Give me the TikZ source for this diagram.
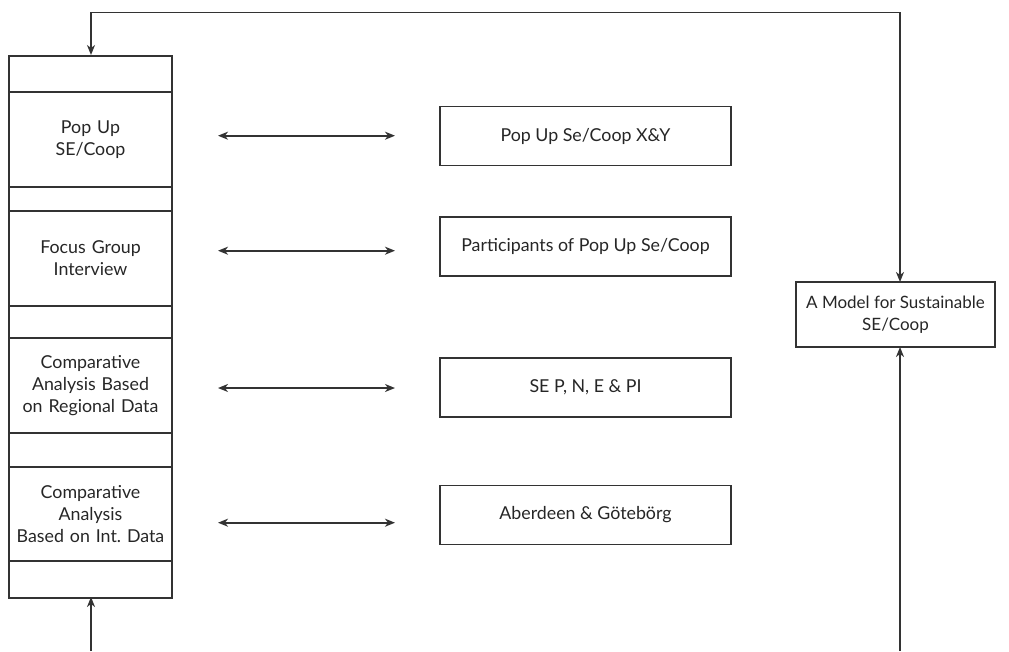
\documentclass[tikz,border=0pt]{standalone}
\usepackage{fontspec}
\setmainfont{Lato}
\usetikzlibrary{arrows.meta,calc}
\frenchspacing
\begin{document}
\begin{tikzpicture}[x=1pt,y=-1pt,
  every node/.style={font=\fontsize{17.8}{22}\selectfont, text=black!85},
  ln/.style={line width=1.6pt, draw=black!80},
  cell/.style={ln, draw, rectangle, anchor=north, minimum width=163pt, inner sep=0pt, align=center, text width=160pt},
  mbox/.style={ln, draw, rectangle, minimum width=291pt, minimum height=59pt, inner sep=0pt, align=center},
  tip/.style={-{Stealth[length=10pt,width=8pt,inset=3pt]}},
  dbl/.style={ln, {Stealth[length=10pt,width=8pt,inset=3pt]}-{Stealth[length=10pt,width=8pt,inset=3pt]}}
]
\useasboundingbox (0,0) rectangle (1009,651);
% left column
\node[cell, minimum height=36pt] (c0) at (90.5,55) {};
\node[cell, minimum height=95pt] (c1) at (90.5,91) {Pop Up\\SE/Coop};
\node[cell, minimum height=24pt] (c2) at (90.5,186) {};
\node[cell, minimum height=95pt] (c3) at (90.5,210) {Focus Group\\Interview};
\node[cell, minimum height=32pt] (c4) at (90.5,305) {};
\node[cell, minimum height=95pt] (c5) at (90.5,337) {Comparative\\Analysis Based\\on Regional Data};
\node[cell, minimum height=34pt] (c6) at (90.5,432) {};
\node[cell, minimum height=94pt] (c7) at (90.5,466) {Comparative\\Analysis\\Based on Int. Data};
\node[cell, minimum height=37pt] (c8) at (90.5,560) {};
% middle boxes
\node[mbox] (b1) at (585.5,136) {Pop Up Se/Coop X\&Y};
\node[mbox] (b2) at (585.5,246.3) {Participants of Pop Up Se/Coop};
\node[mbox] (b3) at (585.5,387.2) {SE P, N, E \& PI};
\node[mbox] (b4) at (585.5,514.8) {Aberdeen \& Götebörg};
% model box
\node[ln, draw, rectangle, minimum width=199pt, minimum height=65pt, inner sep=0pt, align=center, font=\fontsize{17}{22}\selectfont] (m) at (895.5,314.5) {A Model for Sustainable\\SE/Coop};
% double arrows
\coordinate (a1l) at (218,135.7); \coordinate (a1r) at (395,135.7);
\coordinate (a2l) at (218,250.7); \coordinate (a2r) at (395,250.7);
\coordinate (a3l) at (218,388); \coordinate (a3r) at (395,388);
\coordinate (a4l) at (218,522.7); \coordinate (a4r) at (395,522.7);
\draw[dbl] (a1l) -- (a1r);
\draw[dbl] (a2l) -- (a2r);
\draw[dbl] (a3l) -- (a3r);
\draw[dbl] (a4l) -- (a4r);
% top feedback loop
\coordinate (tl) at (91,12.3);
\coordinate (tr) at (900,12.3);
\draw[ln, tip] (tr) -- (tl) -- (91,55);
\draw[ln, tip] (tr) -- (900,282);
% bottom arrows
\coordinate (bl) at (91,651);
\coordinate (br) at (900,651);
\draw[ln, tip] (bl) -- (91,597);
\draw[ln, tip] (br) -- (900,347);
\end{tikzpicture}
\end{document}
